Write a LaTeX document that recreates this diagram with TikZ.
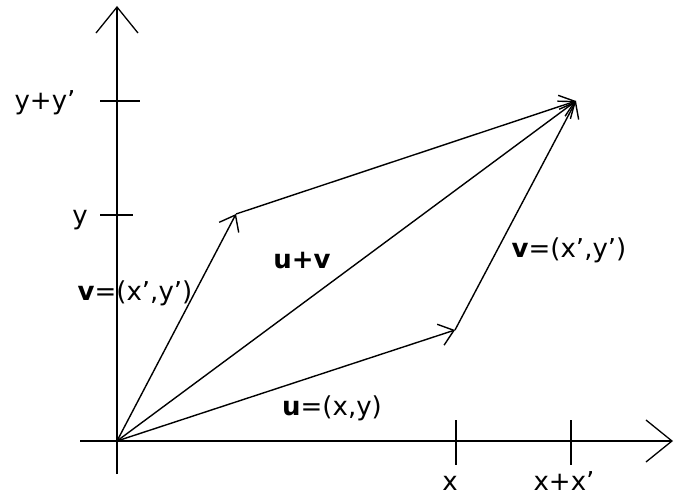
\documentclass[tikz,border=0pt]{standalone}
\usepackage{fontspec}
\setmainfont{DejaVu Sans}
\usetikzlibrary{arrows.meta}
\begin{document}
\begin{tikzpicture}[x=1pt,y=-1pt,
  axis/.style={line width=1.8pt, -{Straight Barb[length=26pt,width=42pt,line width=1.3pt]}},
  vec/.style={line width=1.4pt, -{Straight Barb[length=14pt,width=22pt,line width=1.4pt]}},
  tickmark/.style={line width=1.5pt},
  lbl/.style={font=\fontsize{26}{26}\selectfont, inner sep=0pt, anchor=base}]
\useasboundingbox[fill=white] (0,0) rectangle (674,497);
% axes
\coordinate (O) at (117,441);
\coordinate (ybot) at (117,474);
\coordinate (ytop) at (117,6);
\coordinate (xleft) at (80,441);
\coordinate (xright) at (673,441);
\draw[axis] (ybot) -- (ytop);
\draw[axis] (xleft) -- (xright);
% ticks
\coordinate (tx1a) at (456,420); \coordinate (tx1b) at (456,465);
\coordinate (tx2a) at (571,420); \coordinate (tx2b) at (571,465);
\coordinate (ty1a) at (100,101); \coordinate (ty1b) at (140,101);
\coordinate (ty2a) at (100,215); \coordinate (ty2b) at (133,215);
\draw[tickmark] (tx1a) -- (tx1b);
\draw[tickmark] (tx2a) -- (tx2b);
\draw[tickmark] (ty1a) -- (ty1b);
\draw[tickmark] (ty2a) -- (ty2b);
% tick labels
\node[lbl] (lx) at (450,490) {x};
\node[lbl] (lxx) at (564,490) {x+x'};
\node[lbl] (lyy) at (45,110) {y+y'};
\node[lbl] (ly) at (80,224) {y};
% vectors
\coordinate (U) at (455,330);
\coordinate (V) at (236,214);
\coordinate (W) at (576,101);
\draw[vec] (O) -- (U);
\draw[vec] (O) -- (V);
\draw[vec] (V) -- (W);
\draw[vec] (U) -- (W);
\draw[vec] (O) -- (W);
% vector labels
\node[lbl] (lv1) at (135,300) {\textbf{v}=(x',y')};
\node[lbl] (luv) at (302,268) {\textbf{u+v}};
\node[lbl] (lv2) at (569,257) {\textbf{v}=(x',y')};
\node[lbl] (lu) at (332,415) {\textbf{u}=(x,y)};
\end{tikzpicture}
\end{document}
